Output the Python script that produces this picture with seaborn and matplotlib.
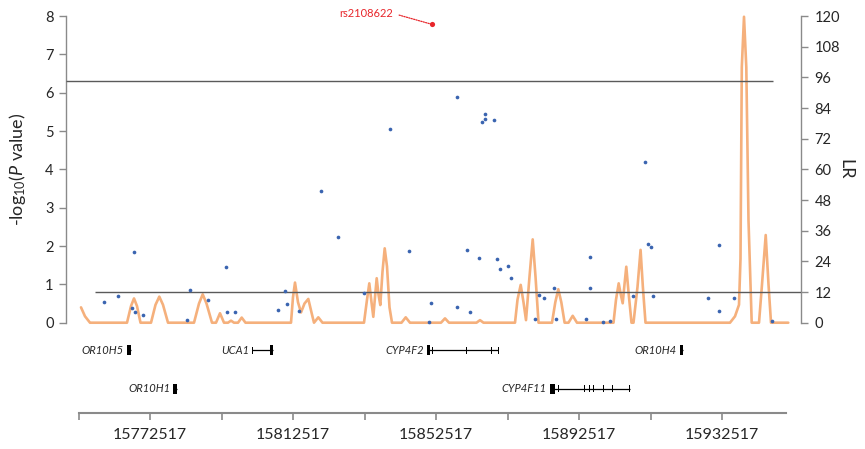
import matplotlib
matplotlib.use("Agg")
import matplotlib.pyplot as plt
import seaborn as sns
import pandas as pd

# ---------------- data ----------------
snp_pos = [15759734, 15763482, 15767958, 15767566, 15768237, 15770643, 15782867, 15783790,
           15788825, 15793860, 15794139, 15796293, 15808237, 15810363, 15810923, 15814279,
           15820265, 15825188, 15832461, 15839650, 15844964, 15850559, 15851034, 15858391,
           15858475, 15861104, 15862111, 15864629, 15865300, 15866223, 15866307, 15868741,
           15869580, 15870335, 15872657, 15873580, 15880293, 15881244, 15882811, 15885440,
           15886084, 15894391, 15895594, 15895510, 15899314, 15901188, 15907538, 15911062,
           15911817, 15912657, 15913216, 15928601, 15931677, 15931761, 15935957, 15946419]
snp_logp = [0.55, 0.70, 1.84, 0.38, 0.27, 0.21, 0.06, 0.85,
            0.60, 1.45, 0.27, 0.27, 0.34, 0.83, 0.48, 0.30,
            3.44, 2.23, 0.77, 5.06, 1.87, 0.03, 0.51, 5.89,
            0.40, 1.90, 0.27, 1.69, 5.24, 5.44, 5.31, 5.29,
            1.67, 1.40, 1.48, 1.17, 0.09, 0.73, 0.64, 0.91,
            0.09, 0.10, 1.71, 0.91, 0.01, 0.04, 0.70, 4.19,
            2.04, 1.98, 0.70, 0.65, 2.02, 0.30, 0.65, 0.04]

lead_name = "rs2108622"
lead_pos = [15851480]
lead_logp = [7.78]

lr_pos = [15753216, 15754335, 15755734, 15766083, 15767202, 15768041, 15768881, 15769860,
          15772797, 15774055, 15775118, 15776153, 15777552, 15784825, 15786223, 15787258,
          15788321, 15789860, 15790979, 15792096, 15793217, 15794335, 15795174, 15796013,
          15797133, 15798167, 15799230, 15811957, 15812517, 15813076, 15813915, 15814754,
          15815736, 15816797, 15817692, 15818391, 15819594, 15820769, 15832377, 15833216,
          15833859, 15834475, 15834979, 15835452, 15835930, 15836433, 15836935, 15837552,
          15838167, 15838811, 15839510, 15840211, 15842867, 15844043, 15845245, 15853915,
          15855035, 15856153, 15863843, 15864825, 15865804, 15874616, 15875314, 15876209,
          15876992, 15877692, 15878671, 15879566, 15880353, 15881194, 15884966, 15885887,
          15886727, 15887568, 15888492, 15889580, 15890754, 15891957, 15902167, 15902867,
          15903622, 15904210, 15904742, 15905245, 15905746, 15906362, 15907202, 15907760,
          15908881, 15909739, 15910382, 15911120, 15934755, 15936153, 15937271, 15937692,
          15938055, 15938671, 15939314, 15939929, 15940826, 15942869, 15943708, 15944743,
          15945524, 15946224, 15951060]
lr_val = [6.0, 2.5, 0, 0, 6.5, 9.5, 6.5, 0,
          0, 7.0, 10.2, 7.0, 0, 0, 7.5, 11.1,
          7.5, 0, 0, 3.7, 0, 0, 0.8, 0,
          0, 2.0, 0, 0, 10.0, 15.7, 8.0, 4.0,
          7.5, 9.3, 4.0, 0, 2.1, 0, 0, 9.0,
          15.4, 8.0, 2.3, 10.0, 17.4, 11.0, 6.9, 20.0,
          29.1, 22.0, 6.0, 0, 0, 2.1, 0, 0,
          1.7, 0, 0, 1.0, 0, 0, 9.0, 14.8,
          8.0, 1.0, 18.0, 32.6, 18.0, 0, 0, 8.0,
          13.1, 8.0, 0, 0, 2.7, 0, 0, 9.0,
          15.4, 11.0, 7.6, 15.0, 21.9, 12.0, 0, 0,
          14.0, 28.5, 14.0, 0, 0, 2.5, 7.0, 25.0,
          100.0, 119.7, 100.0, 40.0, 0, 0, 15.0, 34.3,
          15.0, 0, 0]

p_threshold = 6.3
lr_threshold = 12
p_line_span = [15749020, 15946780]
lr_line_span = [15757130, 15954475]

left_ticks = [0, 1, 2, 3, 4, 5, 6, 7, 8]
right_ticks = [0, 12, 24, 36, 48, 60, 72, 84, 96, 108, 120]

xtick_pos = [15752517, 15772517, 15792517, 15812517, 15832517,
             15852517, 15872517, 15892517, 15912517, 15932517]
xtick_labels = ["", "15772517", "", "15812517", "", "15852517", "", "15892517", "", "15932517"]
axis_span = [15752517, 15950517]
x_range = [15749020, 15954475]

gene_names = ["OR10H5", "OR10H1", "UCA1", "CYP4F2", "OR10H4", "CYP4F11"]
gene_start = [15766000, 15779030, 15801130, 15849920, 15920770, 15884400]
gene_end = [15767120, 15780150, 15807010, 15869950, 15921690, 15906670]
gene_row = [0, 1, 0, 0, 0, 1]
gene_exons = [
    [(15766000, 15767120)],
    [(15779030, 15780150)],
    [(15801130, 15801400), (15806080, 15807010)],
    [(15849920, 15850840), (15851300, 15851560), (15857700, 15857960), (15860980, 15861240),
     (15861900, 15862160), (15864700, 15864960), (15867970, 15868230), (15869820, 15870080)],
    [(15920770, 15921690)],
    [(15884400, 15885800), (15886600, 15886860), (15893870, 15894130), (15895270, 15895530),
     (15896470, 15896730), (15899270, 15899530), (15901790, 15902050), (15906540, 15906800)],
]

# ---------------- style ----------------
sns.set_style("white")
plt.rcParams["font.family"] = ["Lato", "DejaVu Sans"]
plt.rcParams["mathtext.fontset"] = "custom"
plt.rcParams["mathtext.rm"] = "Lato"
plt.rcParams["mathtext.it"] = "Lato:italic"

BLUE = "#3A64B0"
ORANGE = "#F5B07C"
RED = "#E8262B"
SPINE = "#8A8A8A"
LINE = "#5A5A5A"
TXT = "#262626"

fig = plt.figure(figsize=(8.65, 4.49), dpi=100)
W, H = 865.0, 449.0
ax = fig.add_axes([66 / W, 126.3 / H, 734.5 / W, 306.7 / H])
ax2 = ax.twinx()
axg = fig.add_axes([66 / W, 36 / H, 734.5 / W, 73 / H])

# LR curve (right axis) behind the points
lr_df = pd.DataFrame({"pos": lr_pos, "LR": lr_val})
sns.lineplot(data=lr_df, x="pos", y="LR", ax=ax2, sort=False, estimator=None,
             color=ORANGE, linewidth=1.9, clip_on=False, zorder=2)
ax2.hlines(lr_threshold, lr_line_span[0], lr_line_span[1], color=LINE, linewidth=1.0, zorder=3)
ax2.set_ylim(0, 120)
ax2.set_yticks(right_ticks)
ax2.set_ylabel("LR", rotation=270, fontsize=13, color=TXT)
ax2.yaxis.set_label_coords(1.072, 0.5)

ax.set_zorder(ax2.get_zorder() + 1)
ax.patch.set_visible(False)

snp_df = pd.DataFrame({"pos": snp_pos, "logp": snp_logp})
sns.scatterplot(data=snp_df, x="pos", y="logp", ax=ax, s=7, color=BLUE,
                linewidth=0, clip_on=False, zorder=4)
lead_df = pd.DataFrame({"pos": lead_pos, "logp": lead_logp})
sns.scatterplot(data=lead_df, x="pos", y="logp", ax=ax, s=14, color=RED,
                linewidth=0, clip_on=False, zorder=5)
ax.annotate(lead_name, xy=(lead_pos[0], lead_logp[0]), xytext=(-66, 11),
            textcoords="offset pixels", ha="center", va="center", fontsize=8, color=RED,
            annotation_clip=False,
            arrowprops=dict(arrowstyle="-", color=RED, linestyle=(0, (1, 1)), lw=0.9,
                            relpos=(1.0, 0.5), shrinkA=2, shrinkB=1))
ax.hlines(p_threshold, p_line_span[0], p_line_span[1], color=LINE, linewidth=1.0, zorder=3)

ax.set_xlim(*x_range)
ax2.set_xlim(*x_range)
ax.set_ylim(0, 8)
ax.set_yticks(left_ticks)
ax.set_xticks([])
ax2.set_xticks([])
ax.set_xlabel("")
ax2.set_xlabel("")
ax.set_ylabel(r"-log$_{10}$($\it{P}$ value)", fontsize=13, color=TXT)
ax.yaxis.set_label_coords(-0.052, 0.5)

for a in (ax, ax2):
    for s in a.spines.values():
        s.set_visible(False)
ax.spines["left"].set_visible(True)
ax.spines["left"].set_color(SPINE)
ax.spines["left"].set_linewidth(1.0)
ax2.spines["right"].set_visible(True)
ax2.spines["right"].set_color(SPINE)
ax2.spines["right"].set_linewidth(1.0)
ax.tick_params(axis="y", which="both", left=True, length=5, width=1.0, color=SPINE,
               labelsize=10.5, labelcolor=TXT, pad=4)
ax2.tick_params(axis="y", which="both", right=True, length=5, width=1.0, color=SPINE,
                labelsize=10.5, labelcolor=TXT, pad=5)

# ---------------- gene track ----------------
axg.set_xlim(*x_range)
axg.set_ylim(0, 73)
row_y = [63, 24.5]
for name, st, en, row, exons in zip(gene_names, gene_start, gene_end, gene_row, gene_exons):
    y = row_y[row]
    axg.plot([st, en], [y, y], color="black", linewidth=0.9, solid_capstyle="butt")
    for (es, ee) in exons:
        h = 10 if (ee - es) > 500 else 7
        axg.broken_barh([(es, ee - es)], (y - h / 2, h), facecolors="black", edgecolor="none")
    axg.annotate(name, xy=(st, y), xytext=(-3, 0), textcoords="offset pixels",
                 ha="right", va="center", fontsize=8, style="italic", color=TXT)

for s in axg.spines.values():
    s.set_visible(False)
axg.spines["bottom"].set_visible(True)
axg.spines["bottom"].set_color(SPINE)
axg.spines["bottom"].set_linewidth(1.5)
axg.spines["bottom"].set_bounds(axis_span[0], axis_span[1])
axg.set_yticks([])
axg.set_xticks(xtick_pos)
axg.set_xticklabels(xtick_labels)
axg.tick_params(axis="x", bottom=True, length=5, width=1.2, color=SPINE,
                labelsize=11.5, labelcolor=TXT, pad=6)

fig.savefig("out.png", dpi=100)
